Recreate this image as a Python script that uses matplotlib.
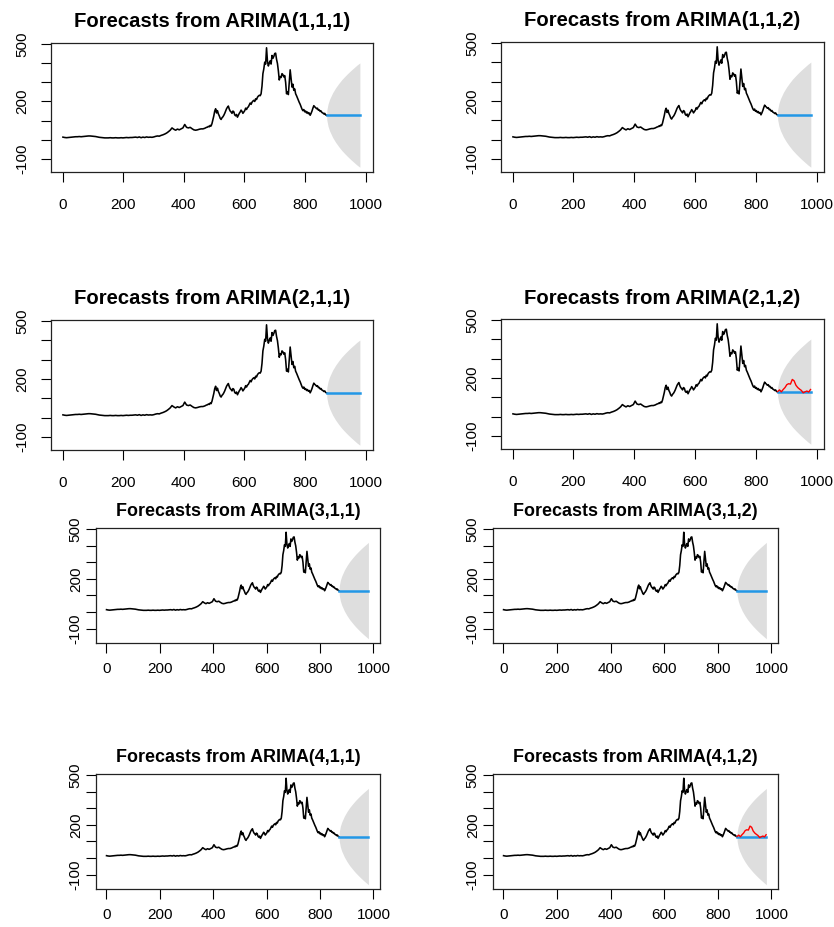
import numpy as np
import matplotlib
matplotlib.use("Agg")
import matplotlib.pyplot as plt
from matplotlib.transforms import offset_copy

plt.rcParams['font.family'] = ['Liberation Sans', 'DejaVu Sans']

# observed series: quiet early stretch every 6 steps (t = 1 .. 475)
price_early = [
    14, 12, 11, 12, 13, 14, 15, 16, 16, 17,
    16, 17, 18, 19, 20, 20, 19, 18, 17, 15,
    13, 12, 11, 10, 10, 10, 11, 10, 10, 11,
    10, 10, 11, 10, 11, 12, 11, 12, 12, 13,
    14, 12, 15, 11, 14, 12, 15, 13, 14, 13,
    15, 18, 20, 19, 23, 26, 30, 35, 42, 50,
    62, 55, 50, 56, 52, 57, 62, 80, 65, 62,
    65, 58, 52, 50, 52, 55, 57, 57, 60, 65,
]
# volatile stretch every 3 steps (t = 478 .. 871)
price_late = [
    66, 70, 68, 75, 72, 85, 105, 125, 150, 162,
    140, 152, 135, 125, 112, 106, 115, 120, 128, 138,
    150, 162, 170, 176, 160, 150, 145, 138, 150, 146,
    130, 125, 132, 118, 128, 138, 145, 155, 148, 138,
    145, 152, 165, 158, 168, 172, 182, 192, 185, 196,
    202, 206, 200, 214, 210, 222, 228, 232, 230, 240,
    280, 345, 370, 405, 395, 480, 410, 385, 400, 412,
    395, 440, 425, 435, 450, 452, 420, 398, 360, 312,
    330, 325, 345, 340, 328, 335, 300, 240, 250, 236,
    300, 365, 320, 275, 290, 258, 265, 240, 230, 218,
    205, 195, 185, 172, 160, 152, 158, 146, 150, 140,
    145, 136, 140, 128, 138, 150, 165, 178, 172, 168,
    162, 165, 155, 156, 148, 150, 142, 140, 135, 138,
    130, 128,
]
price = price_early + price_late
price_t = np.r_[np.arange(1, 476, 6), np.arange(478, 872, 3)]

# held-out observations over the forecast horizon
actual = [130, 138, 128, 140, 150, 165, 170, 168, 192, 185,
          162, 150, 142, 135, 123, 128, 132, 127, 140]
actual_t = np.arange(872, 986, 6)

# point forecast and 95% band half-widths at selected horizons
fc_level = 129
band_h = [1, 5, 10, 20, 30, 40, 50, 60, 70, 80, 90, 100, 110]
band_top = [26, 58, 82, 116, 142, 164, 184, 201, 217, 232, 246, 260, 272]
band_bottom = [28, 62, 87, 123, 151, 175, 195, 214, 231, 247, 262, 276, 290]

models = ["(1,1,1)", "(1,1,2)", "(2,1,1)", "(2,1,2)",
          "(3,1,1)", "(3,1,2)", "(4,1,1)", "(4,1,2)"]
show_actual = ["(2,1,2)", "(4,1,2)"]

x_ticks = [0, 200, 400, 600, 800, 1000]
y_ticks = [-100, 0, 100, 200, 300, 400, 500]
y_labels = ["-100", "", "", "200", "", "", "500"]

W, H = 834, 927

# axes boxes in pixels: left, top, right, bottom
boxes = [
    (51, 43, 373, 172), (501, 42, 824, 172),
    (51, 320, 373, 450), (501, 319, 824, 449),
    (96, 528, 380, 643), (493, 528, 778, 643),
    (96, 774, 380, 889), (493, 774, 778, 889),
]

big = dict(title_size=14.6, title_off=21, xpad=11, ypad=8, band=band_top)
small = dict(title_size=12.9, title_off=16, xpad=6, ypad=2, band=band_bottom)


def draw_panel(fig, box, model, style):
    l, t, r, b = box
    ax = fig.add_axes([l / W, 1 - b / H, (r - l) / W, (b - t) / H])

    last_t = price_t[-1]
    fc_t = last_t + np.array(band_h)
    band = np.array(style['band'])
    ax.fill_between(np.r_[last_t + 0.5, fc_t], np.r_[fc_level, fc_level - band],
                    np.r_[fc_level, fc_level + band], color='#DEDEDE', lw=0)
    ax.plot(price_t, price, color='black', lw=1.15)
    ax.plot([last_t + 1, fc_t[-1]], [fc_level, fc_level], color='#2297E6', lw=1.8)
    if model in show_actual:
        ax.plot(actual_t, actual, color='red', lw=1.0)

    lo = fc_level - band[-1]
    hi = max(price)
    span = hi - lo
    ax.set_xlim(1 - 0.04 * 984, 985 + 0.04 * 984)
    ax.set_ylim(lo - 0.04 * span, hi + 0.04 * span)

    ax.set_xticks(x_ticks)
    ax.set_xticklabels([str(v) for v in x_ticks])
    ax.set_yticks(y_ticks)
    ax.set_yticklabels(y_labels, rotation=90, va='center')
    ax.tick_params(axis='x', length=7.5, width=0.8, labelsize=11, pad=style['xpad'], colors='black')
    ax.tick_params(axis='y', length=7.5, width=0.8, labelsize=11, pad=style['ypad'], colors='black')
    for s in ax.spines.values():
        s.set_linewidth(0.9)
        s.set_color('#222222')

    tr = offset_copy(ax.transAxes, fig=fig, x=0, y=style['title_off'], units='dots')
    ax.text(0.5, 1.0, "Forecasts from ARIMA" + model, transform=tr, ha='center', va='center',
            fontsize=style['title_size'], fontweight='bold')
    return ax


def main():
    fig = plt.figure(figsize=(W / 100, H / 100), dpi=100)
    for i, (box, model) in enumerate(zip(boxes, models)):
        draw_panel(fig, box, model, big if i < 4 else small)
    fig.savefig("out.png", dpi=100, facecolor='white')


if __name__ == "__main__":
    main()
